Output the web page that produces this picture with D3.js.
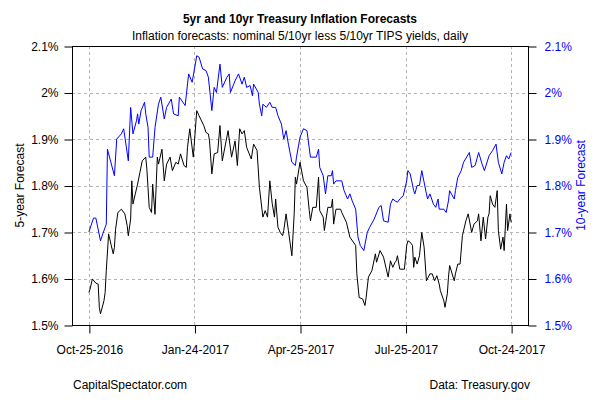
<!DOCTYPE html>
<html><head><meta charset="utf-8">
<script src="https://cdn.jsdelivr.net/npm/d3@7"></script>
<style>body{margin:0;background:#fff}svg{display:block;font-family:"Liberation Sans",Arial,Helvetica,sans-serif}</style>
</head><body><svg id="c" width="600" height="400"></svg>
<script>
// 10-year inflation forecast (blue, right axis)
const dates10 = ["2016-10-25","2016-10-29","2016-10-31","2016-11-04","2016-11-06","2016-11-09","2016-11-10","2016-11-16","2016-11-18","2016-11-22","2016-11-24","2016-11-28","2016-11-30","2016-12-02","2016-12-05","2016-12-06","2016-12-07","2016-12-09","2016-12-12","2016-12-13","2016-12-15","2016-12-16","2016-12-19","2016-12-21","2016-12-24","2016-12-26","2016-12-29","2016-12-31","2017-01-04","2017-01-06","2017-01-10","2017-01-11","2017-01-16","2017-01-19","2017-01-22","2017-01-26","2017-01-28","2017-01-31","2017-02-03","2017-02-05","2017-02-08","2017-02-10","2017-02-12","2017-02-15","2017-02-17","2017-02-21","2017-02-23","2017-02-24","2017-02-28","2017-03-03","2017-03-06","2017-03-08","2017-03-10","2017-03-13","2017-03-15","2017-03-16","2017-03-20","2017-03-21","2017-03-23","2017-03-24","2017-03-27","2017-03-30","2017-04-01","2017-04-04","2017-04-06","2017-04-09","2017-04-11","2017-04-13","2017-04-15","2017-04-18","2017-04-21","2017-04-22","2017-04-25","2017-04-28","2017-05-01","2017-05-04","2017-05-09","2017-05-11","2017-05-12","2017-05-15","2017-05-17","2017-05-19","2017-05-22","2017-05-23","2017-05-24","2017-05-26","2017-05-31","2017-06-02","2017-06-05","2017-06-07","2017-06-09","2017-06-12","2017-06-14","2017-06-16","2017-06-19","2017-06-22","2017-06-24","2017-06-28","2017-07-02","2017-07-04","2017-07-06","2017-07-10","2017-07-12","2017-07-14","2017-07-16","2017-07-18","2017-07-20","2017-07-23","2017-07-26","2017-07-27","2017-07-29","2017-08-01","2017-08-02","2017-08-04","2017-08-06","2017-08-08","2017-08-12","2017-08-13","2017-08-15","2017-08-18","2017-08-20","2017-08-22","2017-08-23","2017-08-27","2017-08-29","2017-08-31","2017-09-01","2017-09-04","2017-09-05","2017-09-06","2017-09-08","2017-09-11","2017-09-13","2017-09-18","2017-09-20","2017-09-23","2017-09-26","2017-09-29","2017-10-01","2017-10-05","2017-10-08","2017-10-11","2017-10-13","2017-10-16","2017-10-18","2017-10-20","2017-10-22","2017-10-24"];
const fcst10 = [1.700,1.730,1.730,1.681,1.696,1.717,1.878,1.821,1.900,1.911,1.922,1.853,1.968,1.911,1.939,1.954,1.932,1.961,1.979,1.954,1.925,1.861,1.861,1.925,1.975,1.990,1.943,1.968,1.986,1.954,1.950,1.990,1.972,2.040,2.022,2.079,2.076,2.051,2.047,2.033,1.961,2.011,2.000,2.061,2.011,2.033,2.040,2.000,2.025,2.040,2.018,2.033,2.011,2.015,1.993,2.018,2.000,1.975,1.950,1.975,1.968,1.979,1.968,1.968,1.950,1.932,1.900,1.918,1.889,1.850,1.843,1.861,1.904,1.922,1.918,1.861,1.861,1.878,1.839,1.821,1.782,1.821,1.821,1.832,1.803,1.810,1.810,1.789,1.771,1.782,1.767,1.749,1.689,1.671,1.660,1.699,1.710,1.728,1.753,1.757,1.724,1.721,1.760,1.771,1.767,1.764,1.771,1.778,1.810,1.832,1.825,1.789,1.782,1.800,1.800,1.832,1.782,1.771,1.782,1.760,1.753,1.771,1.749,1.749,1.742,1.767,1.789,1.775,1.771,1.789,1.817,1.832,1.850,1.871,1.839,1.843,1.871,1.846,1.832,1.864,1.875,1.889,1.850,1.825,1.850,1.864,1.857,1.871];
// 5-year inflation forecast (black, left axis)
const dates5 = ["2016-10-25","2016-10-26","2016-10-28","2016-10-31","2016-11-02","2016-11-03","2016-11-04","2016-11-07","2016-11-08","2016-11-09","2016-11-11","2016-11-13","2016-11-15","2016-11-16","2016-11-17","2016-11-19","2016-11-22","2016-11-25","2016-11-27","2016-11-28","2016-11-30","2016-12-01","2016-12-02","2016-12-04","2016-12-06","2016-12-08","2016-12-10","2016-12-13","2016-12-14","2016-12-16","2016-12-18","2016-12-19","2016-12-21","2016-12-23","2016-12-24","2016-12-27","2016-12-29","2016-12-31","2017-01-03","2017-01-05","2017-01-08","2017-01-10","2017-01-12","2017-01-15","2017-01-17","2017-01-18","2017-01-20","2017-01-23","2017-01-26","2017-01-28","2017-02-01","2017-02-03","2017-02-05","2017-02-06","2017-02-08","2017-02-10","2017-02-13","2017-02-15","2017-02-17","2017-02-22","2017-02-25","2017-02-28","2017-03-02","2017-03-04","2017-03-06","2017-03-08","2017-03-10","2017-03-14","2017-03-16","2017-03-19","2017-03-21","2017-03-24","2017-03-26","2017-03-28","2017-03-30","2017-04-01","2017-04-03","2017-04-04","2017-04-06","2017-04-08","2017-04-10","2017-04-11","2017-04-13","2017-04-15","2017-04-18","2017-04-20","2017-04-21","2017-04-22","2017-04-25","2017-04-28","2017-05-01","2017-05-03","2017-05-04","2017-05-06","2017-05-09","2017-05-11","2017-05-12","2017-05-15","2017-05-16","2017-05-19","2017-05-22","2017-05-23","2017-05-24","2017-05-26","2017-05-30","2017-05-31","2017-06-04","2017-06-07","2017-06-12","2017-06-13","2017-06-15","2017-06-18","2017-06-20","2017-06-21","2017-06-23","2017-06-26","2017-06-29","2017-06-30","2017-07-03","2017-07-06","2017-07-10","2017-07-12","2017-07-14","2017-07-16","2017-07-17","2017-07-18","2017-07-20","2017-07-24","2017-07-26","2017-07-27","2017-07-29","2017-07-31","2017-08-01","2017-08-02","2017-08-04","2017-08-06","2017-08-08","2017-08-10","2017-08-12","2017-08-15","2017-08-17","2017-08-19","2017-08-21","2017-08-23","2017-08-24","2017-08-27","2017-08-28","2017-08-30","2017-08-31","2017-09-01","2017-09-04","2017-09-05","2017-09-06","2017-09-08","2017-09-10","2017-09-12","2017-09-15","2017-09-17","2017-09-20","2017-09-22","2017-09-25","2017-09-26","2017-09-28","2017-09-30","2017-10-02","2017-10-04","2017-10-05","2017-10-06","2017-10-08","2017-10-10","2017-10-12","2017-10-13","2017-10-15","2017-10-17","2017-10-18","2017-10-20","2017-10-21","2017-10-23","2017-10-24"];
const fcst5 = [1.570,1.577,1.599,1.590,1.588,1.538,1.524,1.552,1.570,1.617,1.696,1.674,1.653,1.667,1.706,1.742,1.749,1.739,1.714,1.692,1.728,1.810,1.760,1.782,1.803,1.828,1.853,1.861,1.835,1.753,1.742,1.803,1.738,1.861,1.846,1.878,1.810,1.846,1.861,1.832,1.850,1.846,1.868,1.843,1.839,1.882,1.922,1.861,1.961,1.950,1.929,1.914,1.911,1.896,1.825,1.868,1.871,1.929,1.853,1.918,1.861,1.896,1.843,1.922,1.911,1.918,1.882,1.857,1.889,1.875,1.796,1.732,1.746,1.732,1.810,1.762,1.732,1.771,1.710,1.699,1.692,1.703,1.739,1.703,1.649,1.739,1.818,1.803,1.850,1.810,1.796,1.746,1.724,1.753,1.753,1.818,1.746,1.732,1.703,1.753,1.753,1.771,1.717,1.749,1.749,1.742,1.721,1.689,1.671,1.610,1.559,1.556,1.542,1.559,1.603,1.617,1.653,1.635,1.660,1.646,1.603,1.638,1.624,1.635,1.638,1.649,1.620,1.620,1.671,1.681,1.678,1.671,1.624,1.646,1.631,1.649,1.699,1.667,1.595,1.610,1.610,1.595,1.606,1.588,1.574,1.552,1.538,1.567,1.603,1.628,1.603,1.595,1.610,1.631,1.631,1.692,1.724,1.739,1.699,1.717,1.724,1.739,1.681,1.732,1.685,1.732,1.739,1.778,1.760,1.753,1.789,1.703,1.663,1.689,1.660,1.760,1.703,1.739,1.721];
const tickDates = ["2016-10-25","2017-01-24","2017-04-25","2017-07-25","2017-10-24"];
const tickDateLabels = ["Oct-25-2016","Jan-24-2017","Apr-25-2017","Jul-25-2017","Oct-24-2017"];
const yTicks = [1.5,1.6,1.7,1.8,1.9,2.0,2.1];
const yTickLabels = ["1.5%","1.6%","1.7%","1.8%","1.9%","2%","2.1%"];

const parse = d3.utcParse("%Y-%m-%d");
const svg = d3.select("#c");
const L = 72, R = 528, T = 46, B = 325;
const pad = (R - L) * 0.04 / 1.08;
const all = dates5.concat(dates10).map(parse);
const x = d3.scaleUtc().domain(d3.extent(all)).range([L + pad, R - pad]);
const y = d3.scaleLinear().domain([1.5, 2.1]).range([B, T]);

// grid
const grid = svg.append("g").attr("stroke", "#b4b4b4").attr("stroke-dasharray", "3,3").attr("stroke-width", 1);
grid.selectAll("line.h").data(yTicks).join("line").attr("class","h")
  .attr("x1", L).attr("x2", R).attr("y1", d => Math.round(y(d)) + 0.5).attr("y2", d => Math.round(y(d)) + 0.5);
grid.selectAll("line.v").data(tickDates).join("line").attr("class","v")
  .attr("x1", d => Math.round(x(parse(d))) + 0.5).attr("x2", d => Math.round(x(parse(d))) + 0.5).attr("y1", T).attr("y2", B);

// lines
const line = d3.line().x(d => x(d[0])).y(d => y(d[1]));
svg.append("path").datum(dates5.map((d,i) => [parse(d), fcst5[i]]))
  .attr("fill","none").attr("stroke","#000").attr("stroke-width",1).attr("d", line);
svg.append("path").datum(dates10.map((d,i) => [parse(d), fcst10[i]]))
  .attr("fill","none").attr("stroke","#0000ff").attr("stroke-width",1).attr("d", line);

// box
svg.append("rect").attr("x", L + 0.5).attr("y", T + 0.5).attr("width", R - L).attr("height", B - T)
  .attr("fill","none").attr("stroke","#000").attr("stroke-width",1);

// axes
const fmtY = (d) => yTickLabels[yTicks.indexOf(d)];
const ax = (g, axis, color) => {
  g.call(axis);
  g.select(".domain").remove();
  g.selectAll("line").attr("stroke","#000");
  g.selectAll("text").attr("fill", color).attr("font-size", 12).attr("font-family", '"Liberation Sans",Arial,sans-serif');
};
svg.append("g").attr("transform", `translate(${L + 0.5},0.5)`)
  .call(g => ax(g, d3.axisLeft(y).tickValues(yTicks).tickFormat(fmtY).tickSize(8).tickPadding(6), "#000"));
svg.append("g").attr("transform", `translate(${R + 0.5},0.5)`)
  .call(g => ax(g, d3.axisRight(y).tickValues(yTicks).tickFormat(fmtY).tickSize(8).tickPadding(8), "#0000ff"));
svg.append("g").attr("transform", `translate(0.5,${B + 0.5})`)
  .call(g => ax(g, d3.axisBottom(x).tickValues(tickDates.map(parse)).tickFormat((d,i) => tickDateLabels[i]).tickSize(8).tickPadding(12), "#000"));

// titles
svg.append("text").attr("x", 300).attr("y", 23).attr("text-anchor","middle").attr("font-size",12).attr("font-weight","bold").text("5yr and 10yr Treasury Inflation Forecasts");
svg.append("text").attr("x", 300).attr("y", 40).attr("text-anchor","middle").attr("font-size",12).text("Inflation forecasts: nominal 5/10yr less 5/10yr TIPS yields, daily");
svg.append("text").attr("transform", `translate(24,${(T+B)/2}) rotate(-90)`).attr("text-anchor","middle").attr("font-size",12).text("5-year Forecast");
svg.append("text").attr("transform", `translate(585,${(T+B)/2}) rotate(-90)`).attr("text-anchor","middle").attr("font-size",12).attr("fill","#0000ff").text("10-year Forecast");
svg.append("text").attr("x", 73).attr("y", 389).attr("font-size",12).text("CapitalSpectator.com");
svg.append("text").attr("x", 530).attr("y", 389).attr("text-anchor","end").attr("font-size",12).text("Data: Treasury.gov");
</script></body></html>
